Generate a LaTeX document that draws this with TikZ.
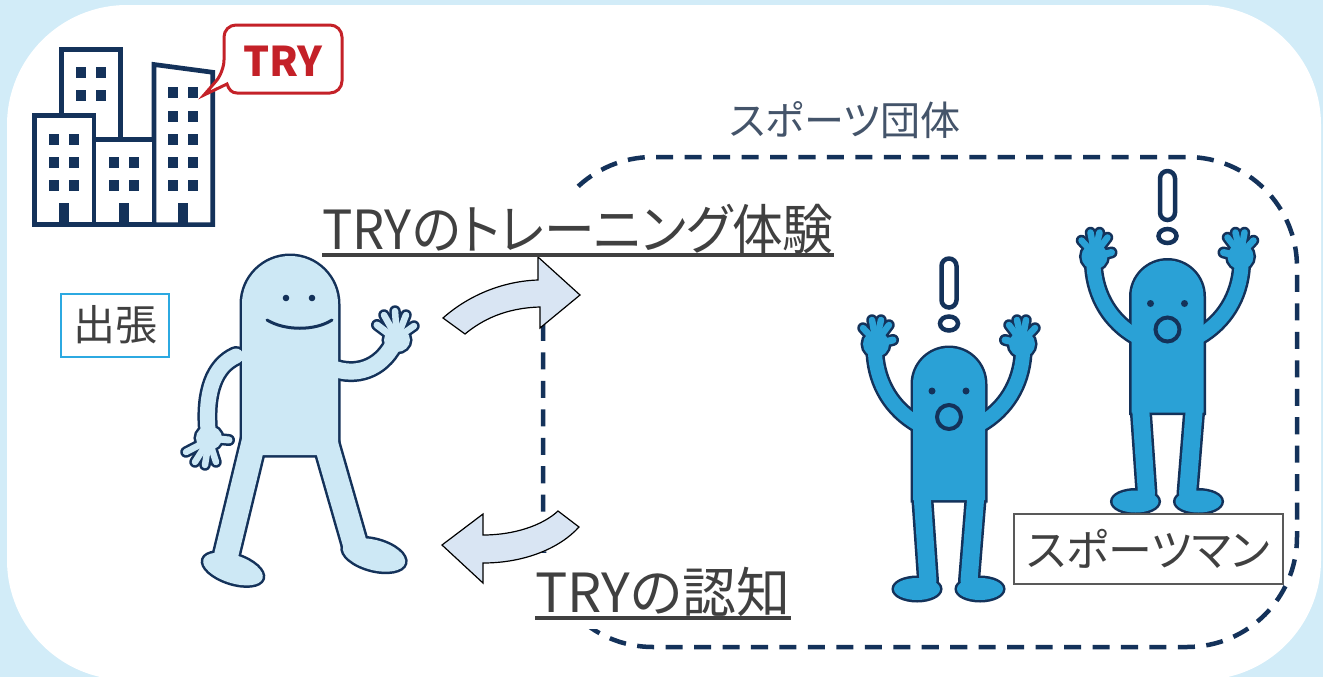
\documentclass[tikz,border=0pt]{standalone}
\usepackage{fontspec}
\usepackage{tikz}
\newfontfamily\jp[RawFeature=+palt]{Noto Sans CJK JP}
\newfontfamily\jpnarrow[RawFeature=+palt, FakeStretch=0.94]{Noto Sans CJK JP}
\definecolor{sora}{RGB}{210,236,248}
\definecolor{kon}{RGB}{20,50,90}
\definecolor{usuao}{RGB}{205,232,245}
\definecolor{ao}{RGB}{42,161,214}
\definecolor{kasumi}{RGB}{217,229,243}
\definecolor{aka}{RGB}{196,33,40}
\definecolor{mizu}{RGB}{44,169,225}
\definecolor{sumi}{RGB}{64,64,64}
\definecolor{hai}{RGB}{68,84,106}
\definecolor{nezumi}{RGB}{89,89,89}
\def\dpx{0.569pt}

% figures are drawn twice: ink pass (outline) then paint pass (fill)
\newcommand\waverparts{%
  \path[limb=24] (254,440) -- (226,556);
  \path[limb=24] (325,440) -- (356,548);
  \path[skin, rotate around={-18:(233,569)}] (233,569) ellipse[x radius=31, y radius=14];
  \path[skin, rotate around={-15:(374,555)}] (374,555) ellipse[x radius=32, y radius=15];
  \path[limb=15] (236,356) .. controls (214,366) and (205,392) .. (208,430);
  \path[limb=16] (332,368) .. controls (356,377) and (380,369) .. (393,345);
  \foreach \tx/\ty in {186/452, 195/462, 205/465, 216/462}
    \path[limb=6.5] (209,440) -- (\tx,\ty);
  \path[limb=7] (209,438) -- (229,440);
  \path[skin] (209,438) ellipse[x radius=13, y radius=12];
  \foreach \tx/\ty in {384/315, 395/311, 406/315, 414/326}
    \path[limb=6.5] (397,338) -- (\tx,\ty);
  \path[limb=7] (397,340) -- (377,325);
  \path[skin] (397,340) ellipse[x radius=13, y radius=12];
  \path[skin] (242,455) -- (242,304) arc[start angle=180, end angle=360, radius=48] -- (338,455) -- cycle;
}
\newcommand\cheerparts{%
  \path[limb=17] (-27,110) -- (-21,197);
  \path[limb=17] (27,110) -- (20,197);
  \path[skin] (-32,205) ellipse[x radius=23, y radius=11];
  \path[skin] (31,205) ellipse[x radius=23, y radius=11];
  \foreach \s in {-1,1} {
    \path[limb=14] ({\s*31},40) .. controls ({\s*57},25) and ({\s*72},0) .. ({\s*74},-30);
    \foreach \fx/\fy in {13/-14, 4/-22, -5/-22, -13/-17}
      \path[limb=6.5] ({\s*73},-42) -- ({\s*(73+\fx)},{\fy-42});
    \path[limb=7] ({\s*73},-40) -- ({\s*56},-44);
    \path[skin] ({\s*73},-40) ellipse[x radius=13, y radius=13];
  }
  \path[skin] (-36,116) -- (-36,0) arc[start angle=180, end angle=360, radius=36] -- (36,116) -- cycle;
}

\tikzset{
  ink/.style={skin/.style={draw=kon, fill=kon, line width=5*\dpx},
    limb/.style={draw=kon, line cap=round, line width=(##1+5)*\dpx}},
  paint/.style={skin/.style={fill=#1},
    limb/.style={draw=#1, line cap=round, line width=##1*\dpx}},
  tower/.style={draw=kon, fill=white, line width=4.7*\dpx},
  fence/.style={draw=kon, line width=4.5*\dpx, dash pattern=on 9.7pt off 6.5pt, rounded corners=2.2cm},
  swoosh/.style={fill=kasumi, draw=black, line width=1.2*\dpx},
  headline/.style={font=\jp\fontsize{30.7}{36}\selectfont, text=sumi, fill=white,
    inner xsep=0pt, inner ysep=7.5pt, anchor=base west},
  uline/.style={draw=sumi, line width=4*\dpx},
  cheer/.pic={
    \begin{scope}[ink] \cheerparts \end{scope}
    \begin{scope}[paint=ao] \cheerparts \end{scope}
    \fill[kon] (-17,7) circle[radius=3.5] (17,7) circle[radius=3.5];
    \draw[kon, line width=4*\dpx] (0,33) circle[radius=12];
    \draw[kon, fill=white, line width=4.5*\dpx, rounded corners=0.15cm] (-7.5,-125.5) rectangle (7.5,-76.5);
    \draw[kon, fill=white, line width=4.5*\dpx] (0,-60.5) ellipse[x radius=9, y radius=7];
  },
}

\begin{document}
\begin{tikzpicture}[x=0.02cm, y=-0.02cm]
  \useasboundingbox (0,0) rectangle (1323,677);
  \clip (0,0) rectangle (1323,677);
  \fill[sora] (0,0) rectangle (1323,677);
  \fill[white, rounded corners=2.4cm] (7,5) rectangle (1321,680);

  % office buildings
  \draw[tower] (61.5,49.5) rectangle (120.5,150);
  \draw[tower] (154,64.5) -- (212.7,72.3) -- (212.7,224.6) -- (154,224.6) -- cycle;
  \draw[tower] (34.5,115.5) rectangle (94,224.6);
  \draw[tower] (94,139.5) rectangle (154,224.6);
  \foreach \x/\y in {76/67, 96/67, 76/90, 96/90, 49/134, 69/134, 49/157, 69/157, 49/180, 69/180,
      109/157, 129/157, 109/180, 129/180, 168/87, 188/87, 168/111, 188/111, 168/134, 188/134,
      168/157, 188/157, 168/180, 188/180}
    \fill[kon] (\x,\y) rectangle ++(10,11);
  \foreach \x in {59,119,178}
    \fill[kon] (\x,203) rectangle ++(10,21);

  % speech bubble
  \draw[aka, fill=white, line width=3*\dpx] (224,72) -- (204,95) -- (227,84)
    .. controls (229,90) and (232,93) .. (237,93) [rounded corners=0.24cm]
    -- (342,93) -- (342,25) -- (224,25) -- cycle;
  \node[font=\jp\bfseries\fontsize{23.3}{28}\selectfont, text=aka] (try) at (283,61) {TRY};

  \node[draw=mizu, line width=2*\dpx, minimum width=2.16cm, minimum height=1.26cm, text=sumi,
    font=\jp\fontsize{23.9}{28}\selectfont] (trip) at (115,325) {出張};

  % sports group
  \draw[fence] (543,157) rectangle (1297,647);
  \node[font=\jp\fontsize{22.8}{27}\selectfont, text=hai] (group) at (845,120) {スポーツ団体};

  \node[headline, font=\jpnarrow\fontsize{30.7}{36}\selectfont] (trial) at (322,249) {TRYのトレーニング体験};
  \node[headline] (notice) at (535,612) {TRYの認知};

  % curved arrows
  \draw[swoosh] (443,318) .. controls (470,294) and (505,281) .. (538,280) -- (538,257) -- (580,295)
    -- (540,328) -- (540,307) .. controls (505,308) and (482,320) .. (465,334) -- cycle;
  \draw[swoosh] (442,545) -- (483,514) -- (483,535) .. controls (515,535) and (543,525) .. (558,511)
    -- (579,527) .. controls (560,548) and (525,563) .. (483,563) -- (483,583) -- cycle;

  % visitor
  \begin{scope}[ink] \waverparts \end{scope}
  \begin{scope}[paint=usuao] \waverparts \end{scope}
  \fill[kon] (286,298) circle[radius=3.3] (312,298) circle[radius=3.3];
  \draw[kon, line width=3*\dpx, line cap=round] (267,320) .. controls (285,331) and (315,331) .. (332,320);

  % athletes
  \pic (fanA) at (949,384) {cheer};
  \pic (fanB) at (1167.5,296.5) {cheer};

  \node[draw=nezumi, line width=1.3*\dpx, fill=white, minimum width=5.38cm, minimum height=1.4cm,
    text=sumi, font=\jp\fontsize{25}{30}\selectfont] (athlete) at (1148.5,549) {スポーツマン};

  \draw[uline] ([yshift=-3.4pt]trial.base west) -- ([yshift=-3.4pt]trial.base east);
  \draw[uline] ([yshift=-3.4pt]notice.base west) -- ([yshift=-3.4pt]notice.base east);
\end{tikzpicture}
\end{document}
